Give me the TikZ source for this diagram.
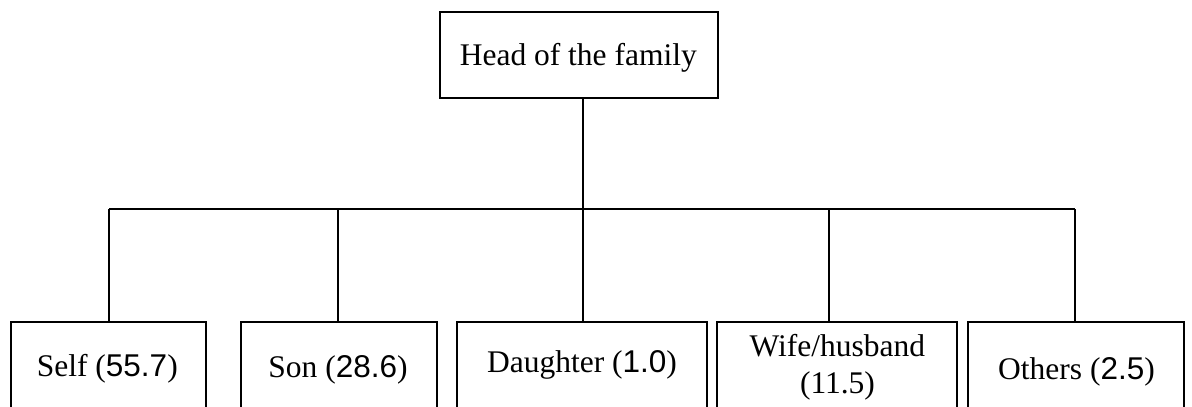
\documentclass[tikz,border=0pt]{standalone}
\usepackage{fontspec}
\setmainfont{Liberation Serif}
\newfontfamily\arialnum{Liberation Sans}
\begin{document}
\begin{tikzpicture}[x=1pt,y=1pt,
  box/.style={draw=black,line width=1.8pt,rectangle,inner sep=0pt},
  lbl/.style={anchor=base,inner sep=0pt,font=\fontsize{31.5}{37}\selectfont,align=center},
  conn/.style={draw=black,line width=1.8pt}]
\clip (0,0) rectangle (1192,407);
\fill[white] (0,0) rectangle (1192,407);
% head box
\node[box,minimum width=277.7pt,minimum height=86.3pt] (head) at (578.9,352.15) {};
\node[lbl] (headt) at (578.3,341.3) {Head of the family};
% child boxes (top at 86, bottom cut off)
\node[box,anchor=north,minimum width=195pt,minimum height=100pt] (self) at (108.5,86) {};
\node[box,anchor=north,minimum width=195.7pt,minimum height=100pt] (son) at (338.85,86) {};
\node[box,anchor=north,minimum width=249.7pt,minimum height=100pt] (dau) at (582.2,86) {};
\node[box,anchor=north,minimum width=239.7pt,minimum height=100pt] (wife) at (836.85,86) {};
\node[box,anchor=north,minimum width=215.7pt,minimum height=100pt] (oth) at (1076.2,86) {};
% labels
\node[lbl] (selft) at (107.3,30.3) {Self ({\arialnum 55.7})};
\node[lbl] (sont) at (338,29) {Son ({\arialnum 28.6})};
\node[lbl] (daut) at (582,34.3) {Daughter ({\arialnum 1.0})};
\node[lbl] (wifet) at (837.3,50.3) {Wife/husband};
\node[lbl] (wifen) at (837.5,13) {(11.5)};
\node[lbl] (otht) at (1076.5,27.7) {Others ({\arialnum 2.5})};
% bus
\coordinate (b1) at (109,197.7);
\coordinate (b2) at (338,197.7);
\coordinate (b3) at (583.3,197.7);
\coordinate (b4) at (829.3,197.7);
\coordinate (b5) at (1075,197.7);
\draw[conn] (b1) -- (b5);
\draw[conn] (b3 |- head.south) -- (b3);
\draw[conn] (b1) -- (b1 |- self.north);
\draw[conn] (b2) -- (b2 |- son.north);
\draw[conn] (b3) -- (b3 |- dau.north);
\draw[conn] (b4) -- (b4 |- wife.north);
\draw[conn] (b5) -- (b5 |- oth.north);
\end{tikzpicture}
\end{document}
